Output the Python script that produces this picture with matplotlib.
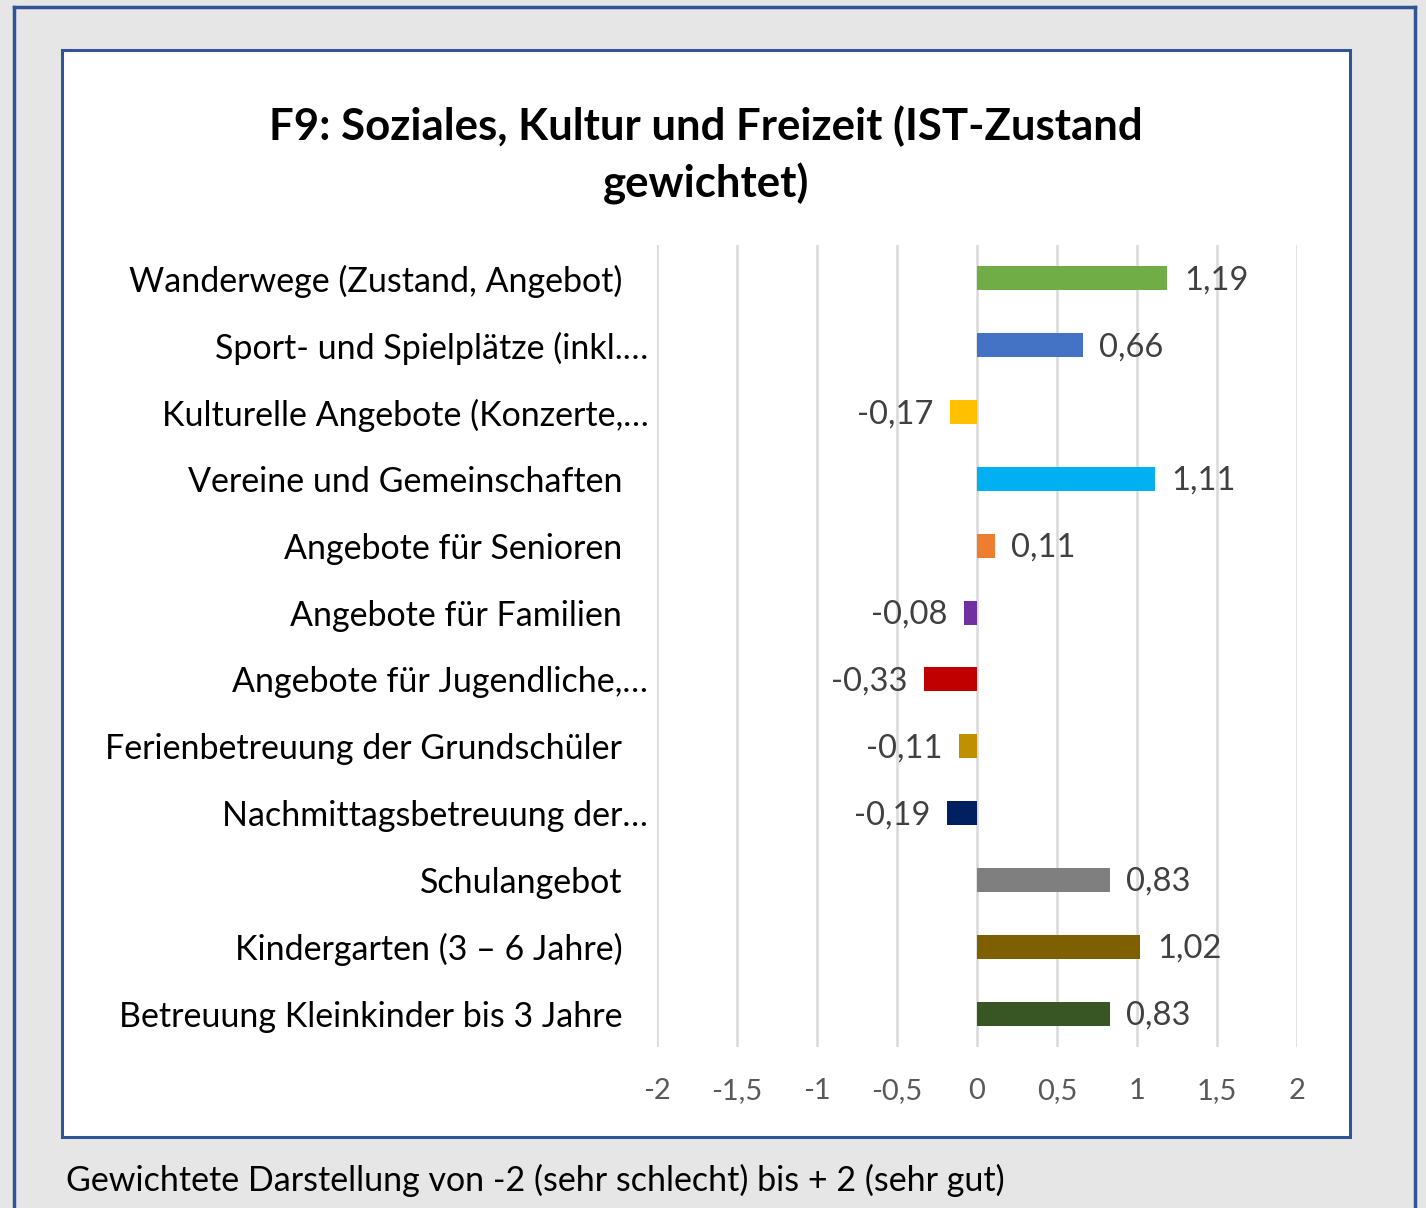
import matplotlib.pyplot as plt
import matplotlib.transforms as mtransforms
from matplotlib.patches import Rectangle

# ---------- Data ----------
categories = [
    "Wanderwege (Zustand, Angebot)",
    "Sport- und Spielplätze (inkl.…",
    "Kulturelle Angebote (Konzerte,…",
    "Vereine und Gemeinschaften",
    "Angebote für Senioren",
    "Angebote für Familien",
    "Angebote für Jugendliche,…",
    "Ferienbetreuung der Grundschüler",
    "Nachmittagsbetreuung der…",
    "Schulangebot",
    "Kindergarten (3 – 6 Jahre)",
    "Betreuung Kleinkinder bis 3 Jahre",
]
values = [1.19, 0.66, -0.17, 1.11, 0.11, -0.08, -0.33, -0.11, -0.19, 0.83, 1.02, 0.83]
colors = ["#70ad47", "#4472c4", "#ffc000", "#00b0f0", "#ed7d31", "#7030a0",
          "#c00000", "#bf9000", "#002060", "#7f7f7f", "#7f6000", "#375623"]
xticks = [-2, -1.5, -1, -0.5, 0, 0.5, 1, 1.5, 2]
xticklabels = ["-2", "-1,5", "-1", "-0,5", "0", "0,5", "1", "1,5", "2"]

title = "F9: Soziales, Kultur und Freizeit (IST-Zustand\ngewichtet)"
caption = "Gewichtete Darstellung von -2 (sehr schlecht) bis + 2 (sehr gut)"

plt.rcParams['font.family'] = ['Lato', 'DejaVu Sans']

W, H = 1426, 1208
fig = plt.figure(figsize=(W / 100, H / 100), dpi=100, facecolor="#e6e6e6")

border = "#2f5597"

def px_rect(x0, y0, x1, y1, **kw):
    # rectangle in pixel coords measured from top-left
    return Rectangle((x0 / W, 1 - y1 / H), (x1 - x0) / W, (y1 - y0) / H,
                     transform=fig.transFigure, **kw)

# outer frame (top, left, right)
for xs, ys in [([14, 1415], [7, 7]), ([14, 14], [7, H]), ([1415, 1415], [7, H])]:
    fig.add_artist(plt.Line2D([x / W for x in xs], [1 - v / H for v in ys],
                              color=border, lw=2.5, transform=fig.transFigure, zorder=-2))
# inner chart box
fig.add_artist(px_rect(62, 50, 1350, 1137, facecolor="white", edgecolor=border, lw=2.2, zorder=-1))

ax = fig.add_axes([657 / W, 1 - 1047 / H, 640 / W, 802 / H])
ax.set_facecolor("none")
ax.set_zorder(2)

y = list(range(len(categories)))
ax.barh(y, values, height=0.36, color=colors, zorder=3)

for yi, v in zip(y, values):
    txt = f"{v:.2f}".replace(".", ",")
    if v >= 0:
        ax.annotate(txt, (v, yi), xytext=(12, -1.5), textcoords="offset points",
                    ha="left", va="center", fontsize=23.5, color="#404040")
    else:
        ax.annotate(txt, (v, yi), xytext=(-12, -1.5), textcoords="offset points",
                    ha="right", va="center", fontsize=23.5, color="#404040")

ax.set_xlim(-2, 2)
ax.set_ylim(len(categories) - 0.5, -0.5)
ax.set_xticks(xticks)
ax.set_xticklabels(xticklabels, fontsize=21, color="#595959")
ax.set_yticks(y)
ax.set_yticklabels(categories, fontsize=24.5, color="black")
ax.tick_params(axis="x", length=0, pad=22)
ax.tick_params(axis="y", length=0, pad=25)
ax.grid(axis="x", color="#d9d9d9", lw=1.8, zorder=0)
for s in ax.spines.values():
    s.set_visible(False)

# truncated labels: let the ellipsis hang past the right edge
hang = mtransforms.ScaledTranslation(26 / 100, 0, fig.dpi_scale_trans)
for lab in ax.get_yticklabels():
    if lab.get_text().endswith("…"):
        lab.set_transform(lab.get_transform() + hang)

fig.text(706 / W, 1 - 155 / H, title, ha="center", va="center", fontsize=31.5,
         fontweight="bold", linespacing=1.45)
fig.text(66 / W, 1 - 1180 / H, caption, ha="left", va="center", fontsize=24.5, color="black")

fig.savefig("out.png", dpi=100, facecolor=fig.get_facecolor())
